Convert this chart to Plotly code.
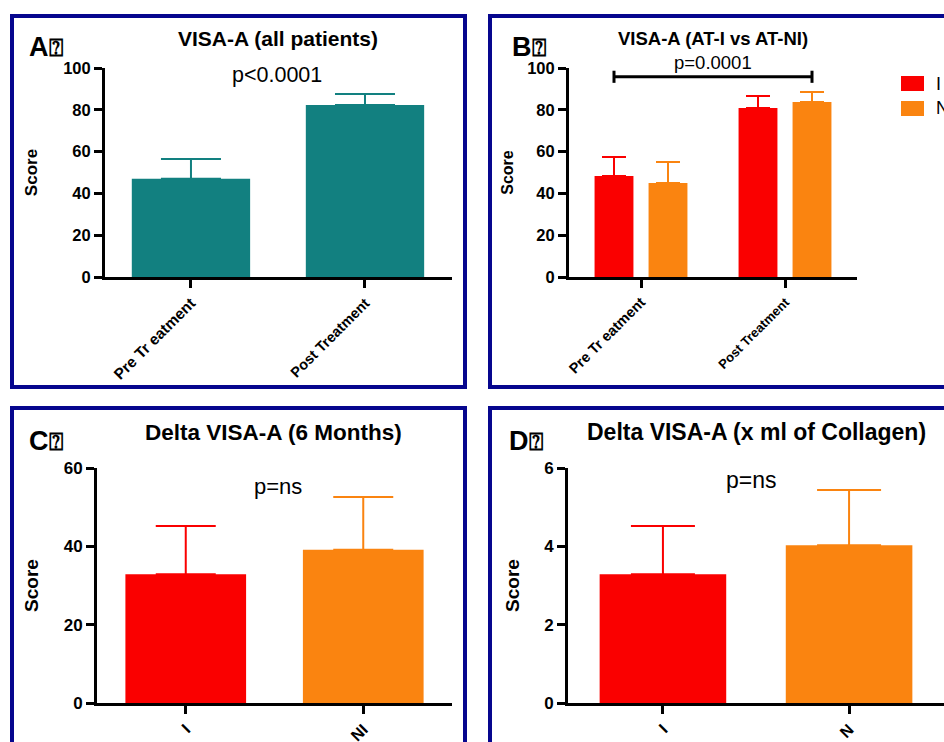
import plotly.graph_objects as go

# ---------------- data ----------------
cats_treat = ["Pre Tr eatment", "Post Treatment"]
visa_all = [47.0, 82.3]
visa_all_err = [9.5, 5.3]

visa_I = [48.3, 80.9]
visa_I_err = [9.1, 5.7]
visa_NI = [45.0, 83.7]
visa_NI_err = [10.0, 4.8]

groups_C = ["I", "NI"]
delta6 = [32.9, 39.1]
delta6_err = [12.3, 13.5]

groups_D = ["I", "N"]
delta_coll = [3.29, 4.03]
delta_coll_err = [1.23, 1.41]

legend_names = ["I", "NI"]
panel_titles = ["VISA-A (all patients)", "VISA-A (AT-I vs AT-NI)",
                "Delta VISA-A (6 Months)", "Delta VISA-A (x ml of Collagen)"]
p_texts = ["p<0.0001", "p=0.0001", "p=ns", "p=ns"]
panel_letters = ["A", "B", "C", "D"]

# ---------------- styles ----------------
W, H = 944, 742
FONT = "Liberation Sans, Arial, sans-serif"
TEAL = "#128080"
RED = "#FA0000"
ORANGE = "#FA8410"
NAVY = "#06068E"


def px(x):
    return x / W


def py(y):
    return 1 - y / H


def err(arr, i, color, w):
    return dict(type="data", symmetric=False, array=[arr[i]], arrayminus=[0],
                color=color, thickness=2, width=w)


fig = go.Figure()

# Panel A
fig.add_trace(go.Bar(x=cats_treat, y=visa_all, width=0.68, marker=dict(color=TEAL, line=dict(width=0)),
                     error_y=dict(type="data", symmetric=False, array=visa_all_err, arrayminus=[0, 0],
                                  color=TEAL, thickness=2, width=30),
                     xaxis="x", yaxis="y", showlegend=False))
# Panel B
fig.add_trace(go.Bar(x=cats_treat, y=visa_I, width=0.27, offset=-0.3225, name=legend_names[0],
                     marker=dict(color=RED, line=dict(width=0)),
                     error_y=dict(type="data", symmetric=False, array=visa_I_err, arrayminus=[0, 0],
                                  color=RED, thickness=2, width=12),
                     xaxis="x2", yaxis="y2", showlegend=False))
fig.add_trace(go.Bar(x=cats_treat, y=visa_NI, width=0.27, offset=0.0525, name=legend_names[1],
                     marker=dict(color=ORANGE, line=dict(width=0)),
                     error_y=dict(type="data", symmetric=False, array=visa_NI_err, arrayminus=[0, 0],
                                  color=ORANGE, thickness=2, width=12),
                     xaxis="x2", yaxis="y2", showlegend=False))
# Panels C and D: one trace per group so each error bar has its bar's colour
for i, c in enumerate([RED, ORANGE]):
    fig.add_trace(go.Bar(x=[groups_C[i]], y=[delta6[i]], width=0.68, marker=dict(color=c, line=dict(width=0)),
                         error_y=err(delta6_err, i, c, 30), xaxis="x3", yaxis="y3", showlegend=False))
    fig.add_trace(go.Bar(x=[groups_D[i]], y=[delta_coll[i]], width=0.68, marker=dict(color=c, line=dict(width=0)),
                         error_y=err(delta_coll_err, i, c, 32), xaxis="x4", yaxis="y4", showlegend=False))


def xax(domain, rng, tsize, anchor, cats, ticktext):
    return dict(domain=domain, range=rng, type="category", anchor=anchor, categoryorder="array",
                categoryarray=cats, tickvals=cats, ticktext=ticktext,
                showline=True, linewidth=3, linecolor="black",
                ticks="outside", ticklen=8, tickwidth=3, tickcolor="black", tickangle=-45,
                tickfont=dict(family=FONT, size=tsize, color="black", weight="bold"),
                showgrid=False, zeroline=False, fixedrange=True)


def yax(domain, rng, dtick, anchor, tsize, title_size, standoff):
    return dict(domain=domain, range=rng, dtick=dtick, tick0=0, anchor=anchor, showline=True, linewidth=3,
                linecolor="black", ticks="outside", ticklen=8, tickwidth=3, tickcolor="black",
                tickfont=dict(family=FONT, size=tsize, color="black", weight="bold"),
                title=dict(text="Score", font=dict(family=FONT, size=title_size, color="black", weight="bold"),
                           standoff=standoff),
                showgrid=False, zeroline=False, fixedrange=True)


def small(s, size):
    return "<span style='font-size:%spx'>%s</span>" % (size, s)


fig.update_layout(
    width=W, height=H, margin=dict(l=0, r=0, t=0, b=0, autoexpand=False),
    paper_bgcolor="white", plot_bgcolor="white", barmode="overlay",
    font=dict(family=FONT, color="black"),
    xaxis=xax([px(105), px(452)], [-0.494, 1.5], 15.5, "y", cats_treat,
              [cats_treat[0], small(cats_treat[1], 14.5)]),
    yaxis=yax([py(277), py(68)], [0, 100], 20, "x", 16.5, 17, 22),
    xaxis2=xax([px(569), px(857)], [-0.5, 1.5], 14.5, "y2", cats_treat,
               [cats_treat[0], small(cats_treat[1], 13)]),
    yaxis2=yax([py(277), py(68)], [0, 100], 20, "x2", 16.5, 16, 10),
    xaxis3=xax([px(97), px(452)], [-0.5, 1.5], 16, "y3", groups_C, groups_C),
    yaxis3=yax([py(703), py(468)], [0, 60], 20, "x3", 17, 19, 21),
    xaxis4=xax([px(568), 1.0], [-0.51, 1.51], 16, "y4", groups_D, groups_D),
    yaxis4=yax([py(703), py(468)], [0, 6], 2, "x4", 17, 19, 20),
)

shapes = []
# panel borders
for (x0, y0, x1, y1) in [(12, 16, 465, 387), (490, 16, 980, 387), (12, 408, 465, 780), (490, 408, 980, 780)]:
    shapes.append(dict(type="rect", xref="paper", yref="paper", x0=px(x0), x1=px(x1), y0=py(y0), y1=py(y1),
                       line=dict(color=NAVY, width=4), fillcolor="rgba(0,0,0,0)", layer="above"))
# significance bracket in B (from I pre-treatment bar centre to NI post-treatment bar centre)
bx0, bx1, by, bh = -0.1875, 1.1875, 95.8, 2.9
shapes.append(dict(type="line", xref="x2", yref="y2", x0=bx0, x1=bx1, y0=by, y1=by,
                   line=dict(color="black", width=3)))
for bx in (bx0, bx1):
    shapes.append(dict(type="line", xref="x2", yref="y2", x0=bx, x1=bx, y0=by - bh, y1=by + bh,
                       line=dict(color="black", width=3)))
# legend swatches (B)
for (y0, y1, c) in [(76, 91, RED), (101, 116, ORANGE)]:
    shapes.append(dict(type="rect", xref="paper", yref="paper", x0=px(901), x1=px(924), y0=py(y1), y1=py(y0),
                       line=dict(width=0), fillcolor=c))
fig.update_layout(shapes=shapes)

ann = []


def text(x, y, s, size, bold=False, xanchor="center"):
    ann.append(dict(x=px(x), y=py(y), xref="paper", yref="paper", text=s, showarrow=False,
                    xanchor=xanchor, yanchor="middle",
                    font=dict(family=FONT, size=size, color="black", weight="bold" if bold else "normal")))


# titles
text(278, 38, panel_titles[0], 21, True)
text(713, 38, panel_titles[1], 18.5, True)
text(273, 432, panel_titles[2], 22.5, True)
text(756, 432, panel_titles[3], 23, True)
# p values
text(277, 75, p_texts[0], 21.5)
text(713, 63, p_texts[1], 18.5)
text(278, 486, p_texts[2], 22)
text(751, 480, p_texts[3], 23)
# panel letters
for (x, y, L) in [(27, 47, panel_letters[0]), (510, 47, panel_letters[1]), (27, 441, panel_letters[2]),
                  (507, 441, panel_letters[3])]:
    text(x, y, L + "<span style='font-size:24px'>⍰</span>", 27, True, "left")
# legend text
text(934, 84, legend_names[0], 18, False, "left")
text(934, 108, legend_names[1], 18, False, "left")
fig.update_layout(annotations=ann)

fig.write_html("out.html", config={"displayModeBar": False},
               post_script="document.body.style.margin='0px';")
